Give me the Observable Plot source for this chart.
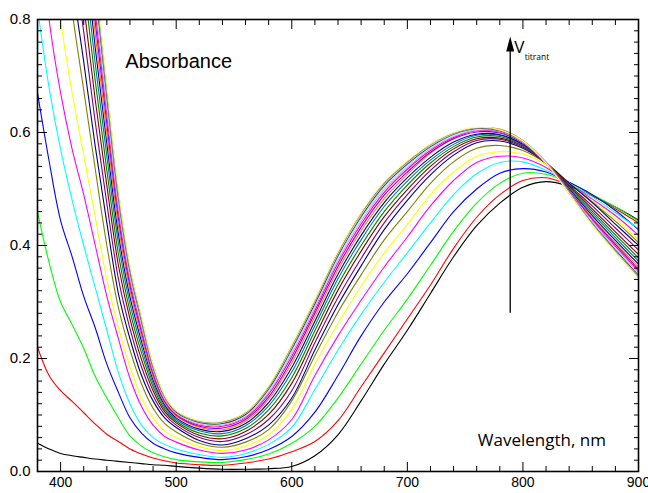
<!DOCTYPE html>
<html><head><meta charset="utf-8">
<script src="https://cdn.jsdelivr.net/npm/d3@7"></script>
<script src="https://cdn.jsdelivr.net/npm/@observablehq/plot@0.6"></script>
<style>body{margin:0;background:#fff}</style>
</head><body><div id="chart"></div>
<script>
// Wavelength grid (nm)
const wavelengths = [380,390,400,410,420,430,440,450,460,470,480,490,500,520,540,560,580,600,620,640,660,680,700,720,740,760,780,800,820,840,860,880,900];

// Absorbance spectra (one per titrant addition)
const s01 = [0.050,0.040,0.032,0.028,0.025,0.022,0.020,0.018,0.016,0.014,0.012,0.011,0.009,0.006,0.004,0.004,0.005,0.009,0.028,0.065,0.125,0.190,0.250,0.315,0.380,0.435,0.475,0.503,0.513,0.505,0.488,0.468,0.445];
const s02 = [0.220,0.170,0.143,0.124,0.104,0.084,0.066,0.053,0.040,0.031,0.024,0.019,0.015,0.012,0.011,0.015,0.022,0.035,0.053,0.090,0.150,0.210,0.270,0.330,0.395,0.450,0.490,0.515,0.520,0.507,0.488,0.465,0.440];
const s03 = [0.460,0.370,0.300,0.260,0.218,0.168,0.130,0.095,0.063,0.045,0.033,0.026,0.021,0.017,0.016,0.021,0.031,0.050,0.080,0.130,0.190,0.250,0.305,0.365,0.425,0.475,0.510,0.528,0.526,0.511,0.490,0.468,0.443];
const s04 = [0.670,0.550,0.444,0.380,0.310,0.254,0.190,0.140,0.095,0.068,0.050,0.040,0.033,0.025,0.021,0.026,0.039,0.062,0.105,0.170,0.240,0.300,0.350,0.405,0.460,0.500,0.528,0.536,0.530,0.512,0.490,0.462,0.428];
const s05 = [0.820,0.680,0.570,0.480,0.400,0.325,0.250,0.175,0.120,0.082,0.060,0.048,0.040,0.030,0.025,0.032,0.048,0.078,0.145,0.215,0.278,0.335,0.387,0.440,0.490,0.527,0.547,0.548,0.533,0.510,0.486,0.458,0.430];
const s06 = [1.000,0.800,0.670,0.570,0.490,0.400,0.310,0.235,0.165,0.115,0.082,0.062,0.052,0.038,0.032,0.038,0.056,0.092,0.170,0.240,0.303,0.362,0.415,0.470,0.515,0.547,0.558,0.555,0.538,0.509,0.482,0.453,0.418];
const s07 = [1.200,1.000,0.800,0.670,0.560,0.450,0.340,0.255,0.185,0.130,0.095,0.072,0.060,0.044,0.037,0.045,0.065,0.110,0.190,0.262,0.328,0.387,0.437,0.490,0.530,0.558,0.566,0.562,0.543,0.510,0.479,0.448,0.410];
const s08 = [1.400,1.200,1.000,0.815,0.675,0.535,0.400,0.290,0.215,0.155,0.112,0.085,0.070,0.050,0.043,0.052,0.074,0.125,0.205,0.282,0.348,0.410,0.460,0.510,0.548,0.572,0.577,0.568,0.545,0.511,0.477,0.443,0.405];
const s09 = [1.50,1.35,1.15,0.875,0.725,0.575,0.440,0.315,0.235,0.170,0.125,0.095,0.078,0.055,0.047,0.058,0.082,0.130,0.215,0.295,0.364,0.428,0.480,0.525,0.560,0.582,0.585,0.572,0.546,0.510,0.476,0.438,0.400];
const s10 = [1.52,1.37,1.18,0.935,0.778,0.618,0.474,0.341,0.253,0.185,0.134,0.101,0.082,0.060,0.053,0.065,0.092,0.143,0.228,0.308,0.377,0.440,0.490,0.533,0.566,0.586,0.588,0.574,0.546,0.507,0.470,0.431,0.392];
const s11 = [1.54,1.40,1.22,0.990,0.826,0.657,0.506,0.365,0.270,0.198,0.143,0.106,0.086,0.064,0.058,0.071,0.101,0.156,0.239,0.321,0.390,0.451,0.499,0.540,0.571,0.589,0.590,0.576,0.546,0.505,0.465,0.424,0.384];
const s12 = [1.56,1.42,1.26,1.040,0.868,0.691,0.533,0.385,0.284,0.210,0.150,0.110,0.089,0.068,0.063,0.076,0.109,0.166,0.249,0.331,0.400,0.460,0.507,0.546,0.575,0.592,0.593,0.577,0.546,0.503,0.461,0.419,0.378];
const s13 = [1.57,1.44,1.29,1.080,0.905,0.721,0.558,0.404,0.297,0.220,0.156,0.114,0.092,0.072,0.067,0.081,0.116,0.176,0.258,0.341,0.410,0.469,0.514,0.551,0.579,0.595,0.595,0.578,0.546,0.501,0.457,0.414,0.372];
const s14 = [1.58,1.46,1.32,1.120,0.939,0.749,0.580,0.420,0.309,0.230,0.162,0.118,0.095,0.075,0.071,0.085,0.122,0.184,0.266,0.349,0.418,0.476,0.520,0.556,0.583,0.597,0.596,0.579,0.546,0.500,0.453,0.409,0.367];
const s15 = [1.59,1.48,1.35,1.150,0.969,0.773,0.599,0.435,0.320,0.238,0.167,0.121,0.098,0.078,0.074,0.089,0.128,0.192,0.274,0.357,0.426,0.483,0.526,0.563,0.590,0.607,0.606,0.586,0.548,0.498,0.450,0.405,0.362];
const s16 = [1.60,1.50,1.38,1.180,0.995,0.795,0.616,0.448,0.329,0.246,0.172,0.124,0.100,0.080,0.077,0.092,0.132,0.198,0.280,0.363,0.432,0.489,0.530,0.565,0.589,0.601,0.599,0.581,0.546,0.497,0.447,0.402,0.358];
const s17 = [1.61,1.52,1.41,1.210,1.020,0.813,0.631,0.459,0.336,0.252,0.176,0.126,0.101,0.082,0.080,0.095,0.137,0.204,0.285,0.369,0.438,0.494,0.535,0.568,0.591,0.603,0.601,0.582,0.546,0.496,0.445,0.399,0.355];
const s18 = [1.62,1.54,1.43,1.230,1.040,0.828,0.643,0.469,0.343,0.257,0.179,0.128,0.103,0.084,0.082,0.097,0.140,0.209,0.290,0.374,0.443,0.499,0.538,0.571,0.593,0.604,0.602,0.583,0.546,0.495,0.443,0.396,0.352];
const s19 = [1.63,1.55,1.45,1.250,1.050,0.842,0.654,0.477,0.349,0.262,0.182,0.130,0.104,0.086,0.084,0.099,0.143,0.213,0.294,0.378,0.447,0.502,0.541,0.573,0.595,0.606,0.603,0.583,0.546,0.494,0.441,0.394,0.349];
const s20 = [1.64,1.56,1.46,1.260,1.070,0.854,0.664,0.484,0.354,0.266,0.184,0.132,0.105,0.087,0.085,0.101,0.146,0.217,0.297,0.382,0.451,0.506,0.544,0.575,0.597,0.607,0.603,0.584,0.546,0.494,0.439,0.392,0.347];
const s21 = [1.65,1.57,1.47,1.280,1.080,0.865,0.673,0.491,0.359,0.270,0.187,0.133,0.107,0.088,0.087,0.103,0.149,0.220,0.301,0.385,0.454,0.509,0.547,0.577,0.598,0.608,0.604,0.584,0.546,0.493,0.438,0.390,0.345];
const s22 = [1.66,1.58,1.48,1.290,1.090,0.873,0.680,0.496,0.362,0.273,0.189,0.134,0.107,0.089,0.088,0.104,0.150,0.223,0.303,0.388,0.457,0.511,0.548,0.579,0.599,0.608,0.605,0.585,0.546,0.492,0.437,0.389,0.343];
const s23 = [1.67,1.59,1.49,1.300,1.100,0.880,0.685,0.500,0.365,0.275,0.190,0.135,0.108,0.090,0.089,0.105,0.152,0.225,0.305,0.390,0.459,0.513,0.550,0.580,0.600,0.609,0.605,0.585,0.546,0.492,0.436,0.388,0.342];

const spectra = [s01,s02,s03,s04,s05,s06,s07,s08,s09,s10,s11,s12,s13,s14,s15,s16,s17,s18,s19,s20,s21,s22,s23];
const spectrumColors = ["#000000","#FF0000","#00FF00","#0000FF","#00FFFF","#FF00FF","#FFFF00","#808000","#000080","#800080","#800000","#008000","#008080","#0000A0","#FF8000","#8000FF","#FF0080","#FF80FF","#80FFFF","#404040","#C0C0C0","#808080","#FFFF80"];

// Axis ticks
const xMajor = [400,500,600,700,800,900];
const xMinor = [380,420,440,460,480,520,540,560,580,620,640,660,680,720,740,760,780,820,840,860,880];
const yMajor = [0,0.2,0.4,0.6,0.8];
const yMinor = d3.range(0, 0.801, 0.02).filter(v => Math.abs(v*5 - Math.round(v*5)) > 1e-6);

// Annotation
const arrowAt = 789;
const arrowFrom = 0.28;
const arrowTo = 0.77;

const rows = spectra.flatMap((s, i) => s.map((a, j) => ({curve: i, wl: wavelengths[j], a})));

const arrowHead = {draw(ctx) { ctx.moveTo(0, 0); ctx.lineTo(-4, 15); ctx.lineTo(4, 15); ctx.closePath(); }};

const curveMarks = spectra.map((s, i) =>
  Plot.line(rows.filter(r => r.curve === i), {x: "wl", y: "a", stroke: spectrumColors[i], strokeWidth: 1.1, curve: "catmull-rom", clip: true})
);

const sans = "'Open Sans', 'Liberation Sans', sans-serif";

const chart = Plot.plot({
  width: 648, height: 493,
  marginLeft: 37, marginRight: 10, marginTop: 19, marginBottom: 22,
  x: {domain: [380, 900], label: null},
  y: {domain: [0, 0.8], label: null},
  style: {fontFamily: "'Liberation Sans', Arial, sans-serif", background: "white", color: "black"},
  marks: [
    ...curveMarks,
    Plot.frame({stroke: "black", strokeWidth: 1.6}),
    Plot.axisX(xMajor, {anchor: "bottom", tickSize: 0, tickPadding: 6, fontSize: 14, label: null, tickFormat: d => String(d)}),
    Plot.axisX(xMajor, {anchor: "bottom", tickSize: -9, fill: "none", label: null}),
    Plot.axisX(xMinor, {anchor: "bottom", tickSize: -5, fill: "none", label: null}),
    Plot.axisX(xMajor, {anchor: "top", tickSize: -9, fill: "none", label: null}),
    Plot.axisX(xMinor, {anchor: "top", tickSize: -5, fill: "none", label: null}),
    Plot.axisY(yMajor, {anchor: "left", tickSize: 0, tickPadding: 7, fontSize: 15, tickFormat: d3.format(".1f"), label: null}),
    Plot.axisY(yMajor, {anchor: "left", tickSize: -10, fill: "none", label: null}),
    Plot.axisY(yMinor, {anchor: "left", tickSize: -5, fill: "none", label: null}),
    Plot.axisY(yMajor, {anchor: "right", tickSize: -10, fill: "none", label: null}),
    Plot.axisY(yMinor, {anchor: "right", tickSize: -5, fill: "none", label: null}),
    Plot.ruleX([arrowAt], {y1: arrowFrom, y2: arrowTo - 0.02, stroke: "black", strokeWidth: 1.3}),
    Plot.dot([arrowAt], {x: d => d, y: arrowTo, symbol: arrowHead, fill: "black", stroke: "none"}),
    Plot.text(["Absorbance"], {x: 456, y: 0.726, text: d => d, textAnchor: "start", fontSize: 20}),
    Plot.text(["Wavelength, nm"], {x: 761, y: 0.055, text: d => d, textAnchor: "start", fontSize: 17, fontFamily: sans}),
    Plot.text(["V"], {x: 792.5, y: 0.75, text: d => d, textAnchor: "start", fontSize: 17, fontFamily: sans}),
    Plot.text(["titrant"], {x: 801.5, y: 0.733, text: d => d, textAnchor: "start", fontSize: 8.5, fontFamily: sans})
  ]
});
document.getElementById("chart").append(chart);
</script>
</body></html>
